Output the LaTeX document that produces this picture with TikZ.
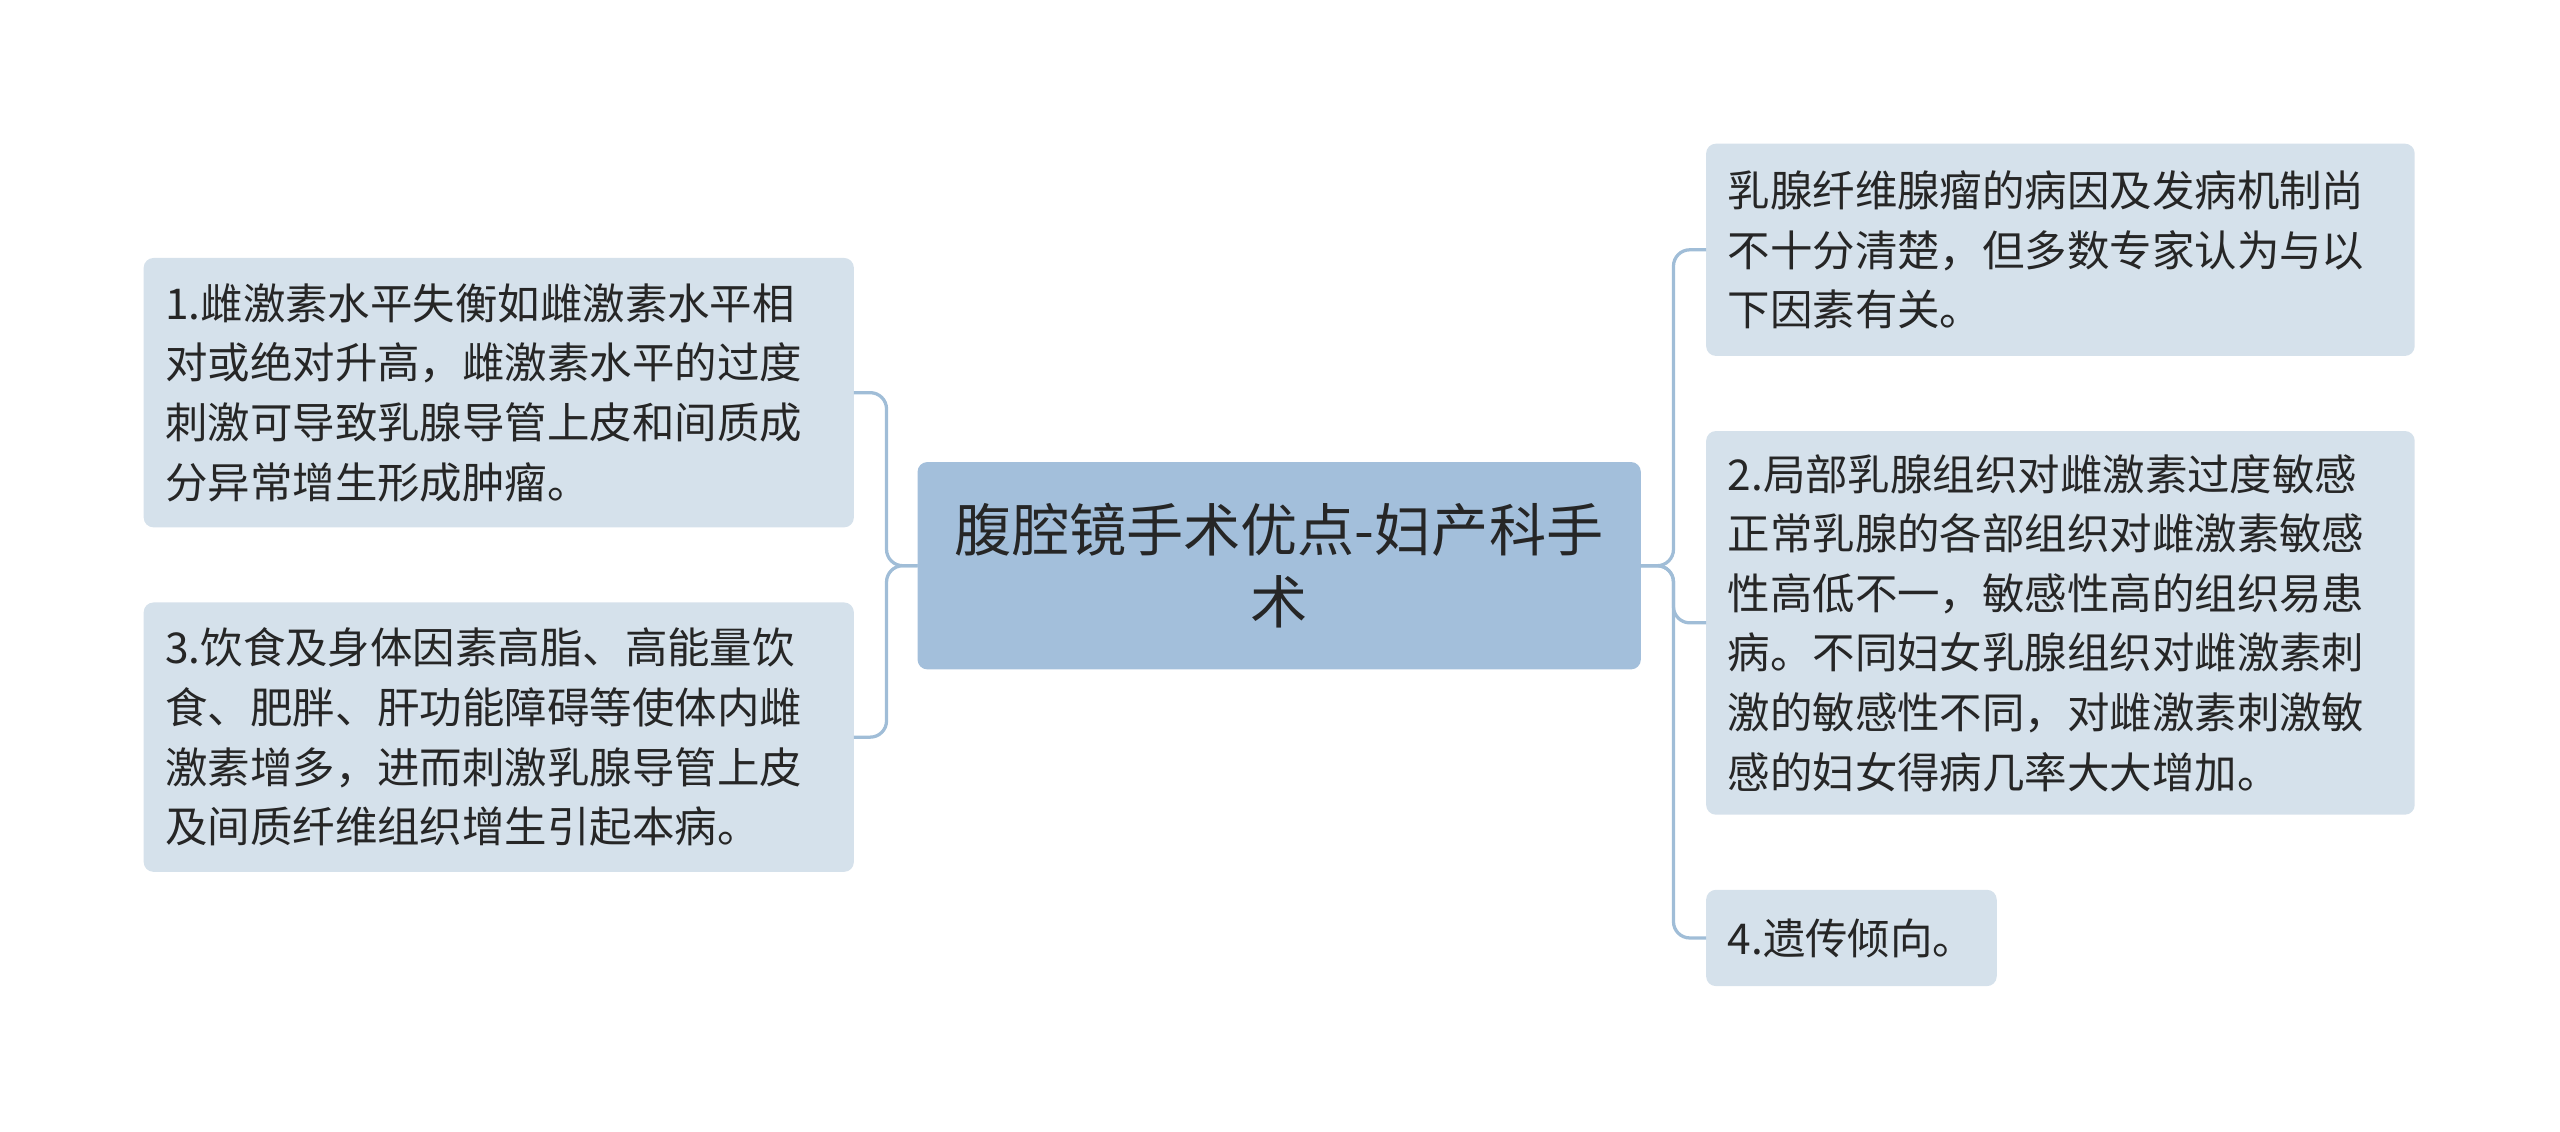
\documentclass[tikz,border=0pt]{standalone}
\usepackage{fontspec}
\newfontfamily\cjk{Noto Sans CJK SC}
\begin{document}
\begin{tikzpicture}[x=1pt,y=-1pt,
  txt/.style={font=\cjk\fontsize{26}{36.5}\selectfont,align=left,anchor=west,text=black!85,inner sep=0pt},
  link/.style={draw=linkc,line width=2pt,rounded corners=10pt}]
\definecolor{leafc}{HTML}{D5E1EB}
\definecolor{mainc}{HTML}{A3BFDB}
\definecolor{linkc}{HTML}{A0BDD7}
\useasboundingbox (0,0) rectangle (1568,693);
\fill[mainc,rounded corners=6pt] (562,283) rectangle (1005,410);
\node[font=\cjk\fontsize{35}{44}\selectfont,align=center,text=black!85,inner sep=0pt] (c) at (783.5,346.5) {腹腔镜手术优点-妇产科手\\术};
\coordinate (cl) at (562,346.5); \coordinate (cr) at (1005,346.5);
\fill[leafc,rounded corners=6pt] (88,158) rectangle (523,323);
\fill[leafc,rounded corners=6pt] (88,369) rectangle (523,534);
\fill[leafc,rounded corners=6pt] (1045,88) rectangle (1479,218);
\fill[leafc,rounded corners=6pt] (1045,264) rectangle (1479,499);
\fill[leafc,rounded corners=6pt] (1045,545) rectangle (1223,604);
\coordinate (l1) at (523,240.5); \coordinate (l2) at (523,451.5);
\coordinate (r1) at (1045,153); \coordinate (r2) at (1045,381.5); \coordinate (r3) at (1045,574.5);
\node[txt] (t1) at (101,240.5) {1.雌激素水平失衡如雌激素水平相\\对或绝对升高，雌激素水平的过度\\刺激可导致乳腺导管上皮和间质成\\分异常增生形成肿瘤。};
\node[txt] (t2) at (101,451.5) {3.饮食及身体因素高脂、高能量饮\\食、肥胖、肝功能障碍等使体内雌\\激素增多，进而刺激乳腺导管上皮\\及间质纤维组织增生引起本病。};
\node[txt] (t3) at (1058,153) {乳腺纤维腺瘤的病因及发病机制尚\\不十分清楚，但多数专家认为与以\\下因素有关。};
\node[txt] (t4) at (1058,381.5) {2.局部乳腺组织对雌激素过度敏感\\正常乳腺的各部组织对雌激素敏感\\性高低不一，敏感性高的组织易患\\病。不同妇女乳腺组织对雌激素刺\\激的敏感性不同，对雌激素刺激敏\\感的妇女得病几率大大增加。};
\node[txt] (t5) at (1058,574.5) {4.遗传倾向。};
\draw[link] (cl) -- (543,346.5) |- (l1);
\draw[link] (cl) -- (543,346.5) |- (l2);
\draw[link] (cr) -- (1025,346.5) |- (r1);
\draw[link] (cr) -- (1025,346.5) |- (r3);
\draw[link] (cr) -- (1025,346.5) |- (r2);
\end{tikzpicture}
\end{document}
